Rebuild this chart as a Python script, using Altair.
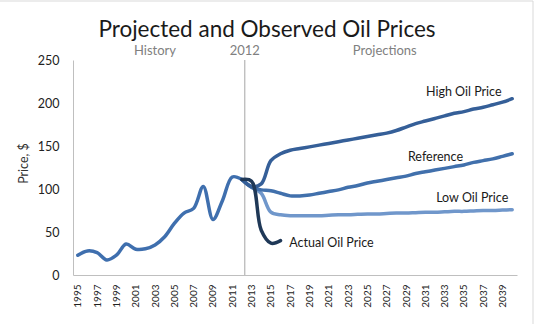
import altair as alt
import pandas as pd

# Historical prices, 1995-2012
hist_years = list(range(1995, 2013))
hist_price = [23, 28, 26, 17.5, 23, 36, 30, 30.5, 35, 44.5, 60, 72, 77.5, 103, 64.5, 87, 114, 111]

# Observed prices after 2012
actual_years = [2012, 2013, 2014, 2015, 2016]
actual_price = [111, 109, 52, 37, 40]

# Projection scenarios, 2012-2040
proj_years = list(range(2012, 2041))
high_price = [111, 103, 106, 133, 141, 145, 147, 149, 151, 153, 155, 157, 159, 161, 163,
              165, 168, 172, 176, 179, 182, 185, 188, 190, 193, 195, 198, 201, 205]
ref_price = [111, 102, 99, 98, 95, 92, 92, 93, 95, 97, 99, 102, 104, 107, 109,
             111, 113, 115, 118, 120, 122, 124, 126, 128, 131, 133, 135, 138, 141]
low_price = [111, 102, 95, 73, 70, 69, 69, 69, 69, 69.5, 70, 70, 70.5, 71, 71,
             71.5, 72, 72, 72.5, 73, 73, 73.5, 74, 74, 74.5, 75, 75, 75.5, 76]

series_names = ["History", "Low Oil Price", "Reference", "High Oil Price", "Actual Oil Price"]
series_colors = ["#3F6FAE", "#7097CB", "#4170AC", "#355F98", "#1F3857"]

x_ticks = list(range(1995, 2040, 2))
y_ticks = [0, 50, 100, 150, 200, 250]
divider_year = 2012.3

FONT = "Lato"

rows = []
for y, v in zip(hist_years, hist_price):
    rows.append({"year": y, "price": v, "series": "History"})
for name, vals in [("Low Oil Price", low_price), ("Reference", ref_price), ("High Oil Price", high_price)]:
    for y, v in zip(proj_years, vals):
        rows.append({"year": y, "price": v, "series": name})
for y, v in zip(actual_years, actual_price):
    rows.append({"year": y, "price": v, "series": "Actual Oil Price"})
df = pd.DataFrame(rows)

x_scale = alt.Scale(domain=[1994.5, 2040.5], nice=False, zero=False)
y_scale = alt.Scale(domain=[0, 250], nice=False)
color_scale = alt.Scale(domain=series_names, range=series_colors)

# One axis definition shared by every layer so the merged axes agree
x_axis = alt.Axis(values=x_ticks, format="d", labelAngle=270, labelFontSize=10,
                  labelFont=FONT, labelColor="#222222", ticks=False, grid=False,
                  domainColor="#BFBFBF", labelPadding=9, labelOverlap=False,
                  labelBound=False, labelFlush=False, title=None)
y_axis = alt.Axis(values=y_ticks, labelFontSize=12.5, labelFont=FONT,
                  labelColor="#222222", ticks=False, grid=False,
                  domainColor="#BFBFBF", labelPadding=14,
                  title="Price, $", titleFont=FONT, titleFontSize=12.5,
                  titleFontWeight="normal", titleColor="#333333",
                  titleX=-50, titleY=103, titleAngle=270,
                  titleAlign="center", titleBaseline="middle")


def xq(field="year"):
    return alt.X(f"{field}:Q", scale=x_scale, axis=x_axis)


def yq(field="price"):
    return alt.Y(f"{field}:Q", scale=y_scale, axis=y_axis)


lines = alt.Chart(df).mark_line(interpolate="catmull-rom", strokeWidth=3.5, strokeCap="round").encode(
    x=xq(),
    y=yq(),
    color=alt.Color("series:N", scale=color_scale, legend=None),
    order=alt.Order("year:Q"),
    detail="series:N",
)

# Divider between history and projections
divider = alt.Chart(pd.DataFrame({"year": [divider_year]})).mark_rule(
    color="#A6A6A6", strokeWidth=1
).encode(x=xq(), y=alt.value(0), y2=alt.value(215))

# Section headers above the plot
headers = pd.DataFrame({
    "year": [2003.0, divider_year, 2026.8],
    "text": ["History", "2012", "Projections"],
})
header_text = alt.Chart(headers).mark_text(
    font=FONT, fontSize=13, color="#808080", baseline="middle", align="center"
).encode(x=xq(), y=alt.value(-9), text="text:N")

# Series labels
labels_right = pd.DataFrame({
    "year": [2038.9, 2039.6],
    "price": [213, 89.5],
    "text": ["High Oil Price", "Low Oil Price"],
})
labels_left = pd.DataFrame({
    "year": [2029.2, 2016.9],
    "price": [137, 37],
    "text": ["Reference", "Actual Oil Price"],
})
lab_r = alt.Chart(labels_right).mark_text(
    font=FONT, fontSize=12.5, color="#1A1A1A", align="right", baseline="middle"
).encode(x=xq(), y=yq(), text="text:N")
lab_l = alt.Chart(labels_left).mark_text(
    font=FONT, fontSize=12.5, color="#1A1A1A", align="left", baseline="middle"
).encode(x=xq(), y=yq(), text="text:N")

# Chart title
title = alt.Chart(pd.DataFrame({"t": ["Projected and Observed Oil Prices"]})).mark_text(
    font=FONT, fontSize=22.5, color="#1A1A1A", align="center", baseline="alphabetic"
).encode(x=alt.value(194), y=alt.value(-23), text="t:N")

# Outer frame edges
frame_top = alt.Chart(pd.DataFrame({"k": [0]})).mark_rule(color="#D9D9D9", strokeWidth=1).encode(
    x=alt.value(-73), x2=alt.value(460), y=alt.value(-59))
frame_right = alt.Chart(pd.DataFrame({"k": [0]})).mark_rule(color="#D9D9D9", strokeWidth=1).encode(
    x=alt.value(460), y=alt.value(-59), y2=alt.value(270))

chart = alt.layer(
    frame_top, frame_right, divider, lines, header_text, lab_r, lab_l, title
).properties(
    width=444, height=215,
    background="white",
    autosize=alt.AutoSizeParams(type="none"),
    padding={"left": 73, "top": 60, "right": 24, "bottom": 49},
).configure(
    view=alt.ViewConfig(stroke=None),
    axisX=alt.AxisConfig(labelOverlap=False),
)

chart.save("out.html", embed_options={"renderer": "svg", "actions": False})
